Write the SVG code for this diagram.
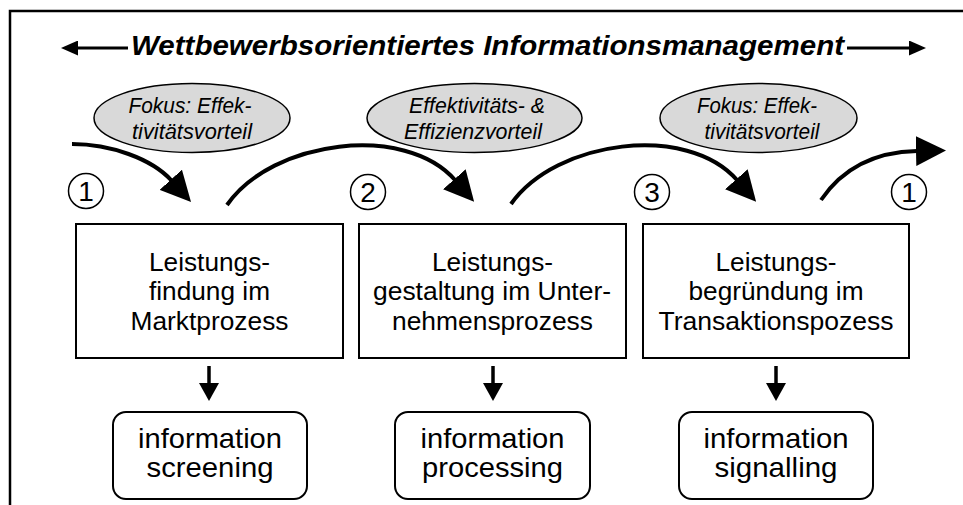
<svg xmlns="http://www.w3.org/2000/svg" width="963" height="505" viewBox="0 0 963 505">
<style>
  .frame{stroke:#000;stroke-width:2.5;fill:none}
  .box{fill:#fff;stroke:#000;stroke-width:2}
  .rbox{fill:#fff;stroke:#000;stroke-width:2}
  .ell{fill:#d9d9d9;stroke:#000;stroke-width:1.5}
  .num{fill:#fff;stroke:#000;stroke-width:1.5}
  .t{font-family:"Liberation Sans",Arial,sans-serif;fill:#000;text-anchor:middle}
  .bx{font-size:25px}
  .rb{font-size:28px}
  .el{font-size:22px;font-style:italic}
  .dg{font-size:28px}
  .title{font-family:"Liberation Sans",Arial,sans-serif;font-size:27px;font-weight:bold;font-style:italic;fill:#000}
  .curve{fill:none;stroke:#000;stroke-width:4}
  .down{fill:none;stroke:#000;stroke-width:3.5}
  .tline{fill:none;stroke:#000;stroke-width:3}
</style>
<defs>
  <marker id="big" markerUnits="userSpaceOnUse" viewBox="0 0 30 30" markerWidth="30" markerHeight="30" refX="1" refY="15" orient="auto">
    <path d="M0,0 L30,15 L0,30 z" fill="#000"/>
  </marker>
  <marker id="small" markerUnits="userSpaceOnUse" viewBox="0 0 18 20" markerWidth="18" markerHeight="20" refX="1" refY="10" orient="auto">
    <path d="M0,0 L18,10 L0,20 z" fill="#000"/>
  </marker>
  <marker id="thead" markerUnits="userSpaceOnUse" viewBox="0 0 17 15" markerWidth="17" markerHeight="15" refX="1" refY="7.5" orient="auto">
    <path d="M0,0 L17,7.5 L0,15 z" fill="#000"/>
  </marker>
</defs>

<g id="frame">
  <path class="frame" d="M10,505 L10,11 L963,11"/>
</g>

<g id="title">
  <text class="title" x="131" y="55" textLength="713" lengthAdjust="spacingAndGlyphs">Wettbewerbsorientiertes Informationsmanagement</text>
  <path class="tline" d="M128,48 L77,48" marker-end="url(#thead)"/>
  <path class="tline" d="M847,48 L910,48" marker-end="url(#thead)"/>
</g>

<g id="ellipse1">
  <ellipse class="ell" cx="192" cy="118" rx="98" ry="34.5"/>
  <text class="t el" x="190" y="113" textLength="123" lengthAdjust="spacingAndGlyphs">Fokus: Effek-</text>
  <text class="t el" x="192" y="139" textLength="120" lengthAdjust="spacingAndGlyphs">tivitätsvorteil</text>
</g>
<g id="ellipse2">
  <ellipse class="ell" cx="474.5" cy="118" rx="107.5" ry="34.5"/>
  <text class="t el" x="477" y="113" textLength="136" lengthAdjust="spacingAndGlyphs">Effektivitäts- &amp;</text>
  <text class="t el" x="473" y="139" textLength="138" lengthAdjust="spacingAndGlyphs">Effizienzvorteil</text>
</g>
<g id="ellipse3">
  <ellipse class="ell" cx="758.5" cy="118" rx="98.5" ry="34.5"/>
  <text class="t el" x="757" y="113" textLength="120" lengthAdjust="spacingAndGlyphs">Fokus: Effek-</text>
  <text class="t el" x="762" y="139" textLength="115" lengthAdjust="spacingAndGlyphs">tivitätsvorteil</text>
</g>

<g id="num1a">
  <ellipse class="num" cx="86" cy="191" rx="17.5" ry="17.5"/>
  <text class="t dg" x="86" y="201">1</text>
</g>
<g id="num2">
  <ellipse class="num" cx="368" cy="192" rx="17.5" ry="17.5"/>
  <text class="t dg" x="368" y="202">2</text>
</g>
<g id="num3">
  <ellipse class="num" cx="652" cy="192" rx="17.5" ry="17.5"/>
  <text class="t dg" x="652" y="202">3</text>
</g>
<g id="num1b">
  <ellipse class="num" cx="909" cy="192" rx="17.5" ry="17.5"/>
  <text class="t dg" x="909" y="202">1</text>
</g>

<g id="box1">
  <rect class="box" x="76" y="224" width="267" height="134"/>
  <text class="t bx" x="209.5" y="271" textLength="121" lengthAdjust="spacingAndGlyphs">Leistungs-</text>
  <text class="t bx" x="209.5" y="300" textLength="121" lengthAdjust="spacingAndGlyphs">findung im</text>
  <text class="t bx" x="209.5" y="330" textLength="158" lengthAdjust="spacingAndGlyphs">Marktprozess</text>
</g>
<g id="box2">
  <rect class="box" x="359" y="224" width="267" height="134"/>
  <text class="t bx" x="492.5" y="271" textLength="121" lengthAdjust="spacingAndGlyphs">Leistungs-</text>
  <text class="t bx" x="492" y="300" textLength="238" lengthAdjust="spacingAndGlyphs">gestaltung im Unter-</text>
  <text class="t bx" x="492.5" y="330" textLength="201" lengthAdjust="spacingAndGlyphs">nehmensprozess</text>
</g>
<g id="box3">
  <rect class="box" x="643" y="224" width="266" height="134"/>
  <text class="t bx" x="776" y="271" textLength="121" lengthAdjust="spacingAndGlyphs">Leistungs-</text>
  <text class="t bx" x="776" y="300" textLength="175" lengthAdjust="spacingAndGlyphs">begründung im</text>
  <text class="t bx" x="776" y="330" textLength="235" lengthAdjust="spacingAndGlyphs">Transaktionspozess</text>
</g>

<g id="rbox1">
  <rect class="rbox" x="113" y="412" width="194" height="87" rx="13"/>
  <text class="t rb" x="210" y="448" textLength="144" lengthAdjust="spacingAndGlyphs">information</text>
  <text class="t rb" x="210" y="477" textLength="127" lengthAdjust="spacingAndGlyphs">screening</text>
</g>
<g id="rbox2">
  <rect class="rbox" x="395" y="412" width="195" height="87" rx="13"/>
  <text class="t rb" x="492.5" y="448" textLength="144" lengthAdjust="spacingAndGlyphs">information</text>
  <text class="t rb" x="492.5" y="477" textLength="141" lengthAdjust="spacingAndGlyphs">processing</text>
</g>
<g id="rbox3">
  <rect class="rbox" x="679" y="412" width="194" height="87" rx="13"/>
  <text class="t rb" x="776" y="448" textLength="145" lengthAdjust="spacingAndGlyphs">information</text>
  <text class="t rb" x="776" y="477" textLength="123" lengthAdjust="spacingAndGlyphs">signalling</text>
</g>

<g id="connectors">
  <path class="curve" d="M72,144 C110,144 151.5,158.5 171.5,180.5" marker-end="url(#big)"/>
  <path class="curve" d="M227,205 C272,140 405,123 455,180" marker-end="url(#big)"/>
  <path class="curve" d="M511,204 C556,140 687,123 737,180" marker-end="url(#big)"/>
  <path class="curve" d="M821,200 C840,172 870,152 917,151" marker-end="url(#big)"/>
  <path class="down" d="M209,366 L209,384" marker-end="url(#small)"/>
  <path class="down" d="M493,366 L493,384" marker-end="url(#small)"/>
  <path class="down" d="M776,366 L776,384" marker-end="url(#small)"/>
</g>
</svg>
